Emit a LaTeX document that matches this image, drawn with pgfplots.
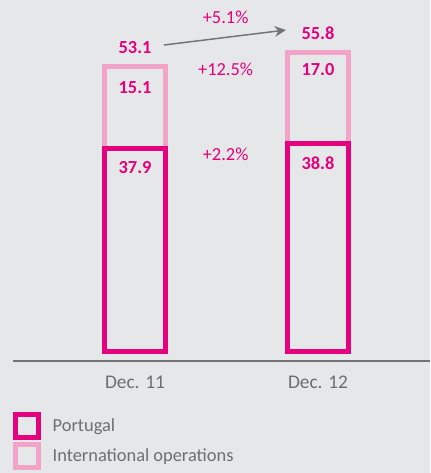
\documentclass[border=0pt]{standalone}
\usepackage{fontspec}
\setmainfont{Carlito}
\usepackage{pgfplots}
\pgfplotsset{compat=1.18}
\usetikzlibrary{arrows.meta,backgrounds}
\definecolor{bg}{HTML}{E6E7E8}
\definecolor{mag}{HTML}{E5007D}
\definecolor{pinkc}{HTML}{F4A3C8}
\definecolor{txt}{HTML}{6D6E71}
\definecolor{axl}{HTML}{737373}
\pgfplotsset{
  boxlegend/.style={legend image code/.code={\draw[##1, fill=bg] (1.875pt,-8.625pt) rectangle (19.125pt,8.625pt);}},
}
\begin{document}
\begin{tikzpicture}
\begin{axis}[
  name=ax,
  scale only axis, width=312.75pt, height=270.75pt,
  xmin=-0.667, xmax=1.612, ymin=-1.77, ymax=65.6,
  axis x line=bottom, axis y line=none,
  x axis line style={-, draw=axl, line width=1.5pt},
  xtick={0,1}, xticklabels={Dec. 11, Dec. 12}, major tick length=0pt,
  xticklabel style={font=\fontsize{14.5}{16}\selectfont, text=txt, yshift=-8pt},
  ybar, bar width=0.333, bar shift=0pt,
  clip=false,
  /pgf/number format/assume math mode=true,
  /pgf/number format/.cd, fixed, precision=1, fixed zerofill, /pgfplots/.cd,
  reverse legend,
  legend style={at={(0,-0.141)}, anchor=north west, draw=none, fill=none,
    font=\fontsize{13.8}{16}\selectfont, text=txt, inner sep=0pt, outer sep=0pt,
    row sep=1.5pt, /tikz/every odd column/.append style={column sep=6.75pt}},
  legend cell align=left,
]
\addplot[draw=pinkc, fill=bg, line width=3.75pt, boxlegend,
  nodes near coords,
  nodes near coords style={anchor=center, yshift=14.6pt, text=mag, font=\fontsize{13.8}{16}\selectfont\bfseries}]
  coordinates {(0,53.1) (1,55.8)};
\addlegendentry{International operations}
\addplot[draw=mag, fill=bg, line width=3.75pt, boxlegend,
  nodes near coords,
  nodes near coords style={anchor=center, yshift=-14.6pt, text=mag, font=\fontsize{13.8}{16}\selectfont\bfseries}]
  coordinates {(0,37.9) (1,38.8)};
\addlegendentry{Portugal}
\node[text=mag, font=\fontsize{13.8}{16}\selectfont\bfseries] at (axis cs:0,49.3) {15.1};
\node[text=mag, font=\fontsize{13.8}{16}\selectfont\bfseries] at (axis cs:1,52.7) {17.0};
\node[text=mag, font=\fontsize{13.8}{16}\selectfont] at (axis cs:0.495,62.4) {+5.1\%};
\node[text=mag, font=\fontsize{13.8}{16}\selectfont] at (axis cs:0.495,52.65) {+12.5\%};
\node[text=mag, font=\fontsize{13.8}{16}\selectfont] at (axis cs:0.495,36.8) {+2.2\%};
\draw[-{Stealth[length=8.5pt,width=8pt]}, draw=axl, line width=1.1pt] (axis cs:0.158,57.2) -- (axis cs:0.825,60.0);
\coordinate (BL) at (rel axis cs:0,0);
\coordinate (TR) at (rel axis cs:1,1);
\end{axis}
\pgfresetboundingbox
\path[use as bounding box] ([shift={(-9.75pt,-84pt)}]BL) rectangle (TR);
\begin{pgfonlayer}{background}
\fill[bg] ([shift={(-9.75pt,-84pt)}]BL) rectangle (TR);
\end{pgfonlayer}
\end{tikzpicture}
\end{document}
